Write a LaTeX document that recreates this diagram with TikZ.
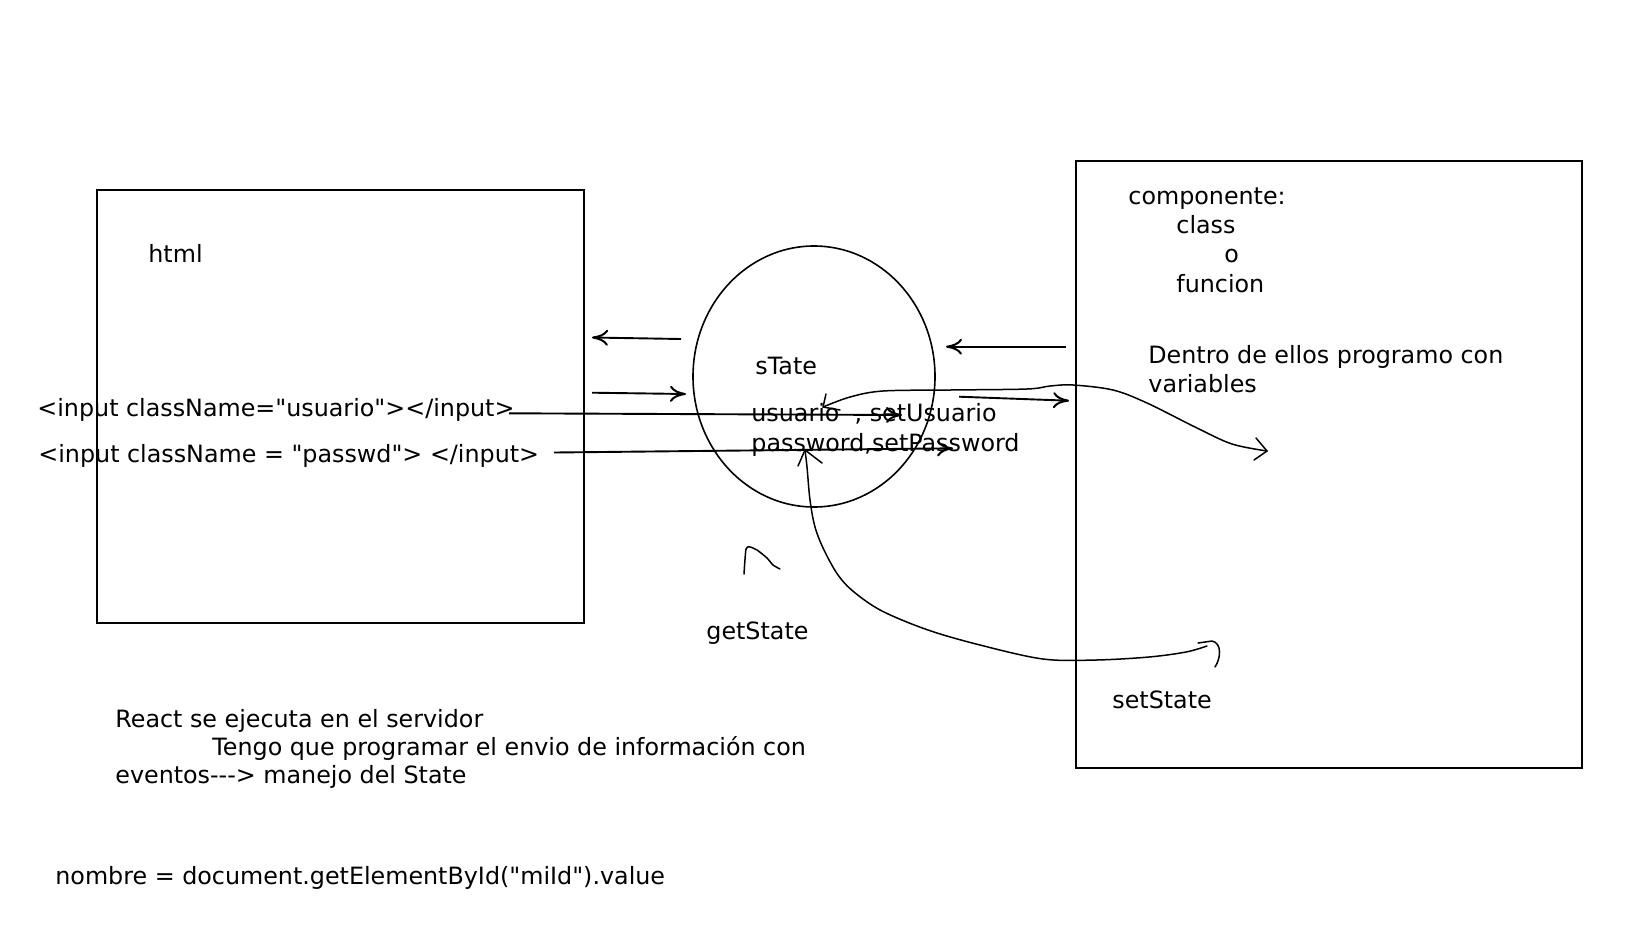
\documentclass[tikz,border=0pt]{standalone}
\usepackage{fontspec}
\setmainfont{DejaVu Sans}[Ligatures=TeXOff]
\usetikzlibrary{arrows.meta}
\begin{document}
\begin{tikzpicture}[x=0.5pt,y=-0.5pt,
  box/.style={draw, line width=1.2pt},
  arr/.style={line width=0.95pt, -{Computer Modern Rightarrow[length=8pt,width=8pt,line width=1pt]}},
  hand/.style={line width=0.75pt, line cap=round, line join=round},
  txt/.style={anchor=base west, inner sep=0pt, font=\fontsize{11.9pt}{14.6pt}\selectfont}]
\useasboundingbox[fill=white] (0,0) rectangle (1648,927);

% boxes and state ellipse
\draw[box] (97,190) rectangle (584,623);
\draw[box] (1076,161) rectangle (1582,768);
\draw[line width=0.8pt] (814,376.5) ellipse [x radius=121, y radius=130.5];

% texts
\node[txt] (html) at (148,262) {html};
\node[txt] (in1) at (37,416) {<input className="usuario"></input>};
\node[txt] (in2) at (38,462) {<input className = "passwd"> </input>};
\node[txt] (st) at (755,374.3) {sTate};
\node[txt] (us) at (751,421.7) {usuario\ \ , setUsuario};
\node[txt] (pw) at (751,451) {password,setPassword};
\node[txt] (gs) at (706,639) {getState};
\node[txt] (c1) at (1128,204.5) {componente:};
\node[txt] (c2) at (1176,233) {class};
\node[txt] (c3) at (1224,262.5) {o};
\node[txt] (c4) at (1176,292) {funcion};
\node[txt] (d1) at (1148,363.5) {Dentro de ellos programo con};
\node[txt] (d2) at (1148,392) {variables};
\node[txt] (ss) at (1112,708) {setState};
\node[txt] (b1) at (115,727) {React se ejecuta en el servidor};
\node[txt] (b2) at (212,755) {Tengo que programar el envio de información con};
\node[txt] (b3) at (115,783) {eventos---> manejo del State};
\node[txt] (b4) at (55,884) {nombre = document.getElementById("miId").value};

% straight arrows
\coordinate (a1s) at (681,339);   \coordinate (a1e) at (592,337.5);
\coordinate (a2s) at (592,392.7); \coordinate (a2e) at (686,394);
\coordinate (a3s) at (1066,346.7);\coordinate (a3e) at (946,346.7);
\coordinate (a4s) at (959,396.7); \coordinate (a4e) at (1069,400.7);
\coordinate (a5s) at (509,413.3); \coordinate (a5e) at (902,415);
\coordinate (a6s) at (554,452.5); \coordinate (a6e) at (953,448.3);
\draw[arr] (a1s) -- (a1e);
\draw[arr] (a2s) -- (a2e);
\draw[arr] (a3s) -- (a3e);
\draw[arr] (a4s) -- (a4e);
\draw[arr] (a5s) -- (a5e);
\draw[arr] (a6s) -- (a6e);

% hand-drawn curve: state <-> component
\draw[hand] plot[smooth, tension=0.55] coordinates {(823,407) (850,397) (883,391) (950,390) (1027,389) (1050,386) (1073,385) (1113,390) (1147,403) (1197,428) (1232,444) (1267,451)};
\draw[hand] (826,394) -- (823,407) -- (840,410);
\draw[hand] (1256,438) -- (1267,451) -- (1254,460);

% hand-drawn curve: setState -> state
\draw[hand] plot[smooth, tension=0.55] coordinates {(805,450) (807,467) (810,500) (815,527) (824,550) (838,575) (854,592) (882,611) (928,630) (980,645) (1043,659) (1096,660) (1149,657) (1186,652) (1207,646)};
\draw[hand] (798,466) -- (805,450) -- (822,463);
\draw[hand] (1198,643) -- (1212,641) .. controls (1222,643) and (1221,658) .. (1215,667);

% getState mark
\draw[hand] plot[smooth, tension=0.4] coordinates {(744,574) (746,549) (750,547) (757,550) (767,558) (773,565) (780,569)};
\end{tikzpicture}
\end{document}
